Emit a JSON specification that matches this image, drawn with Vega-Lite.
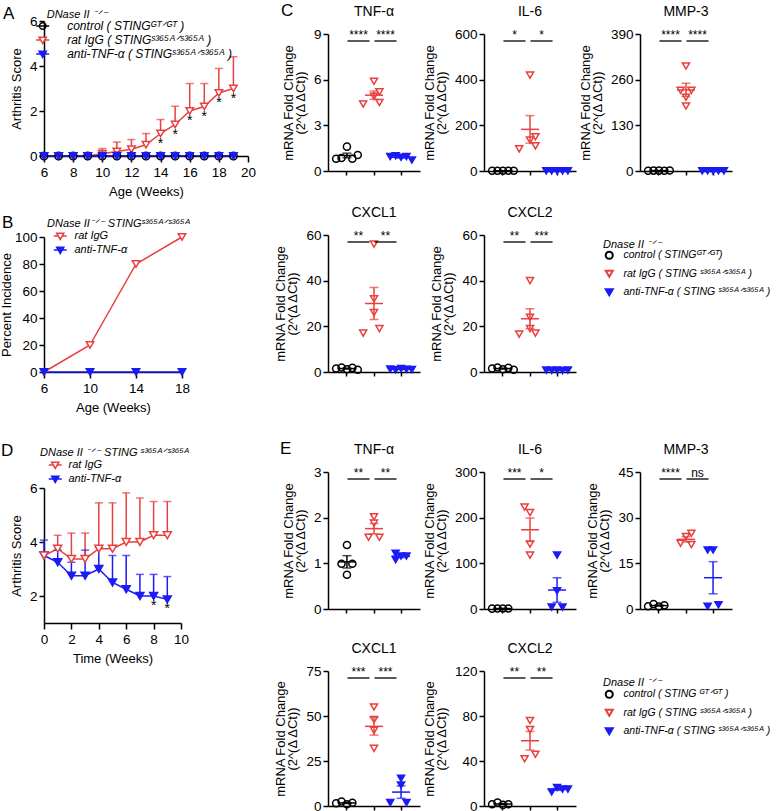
{
"$schema": "https://vega.github.io/schema/vega-lite/v6.json",
"autosize": {"type": "none"},
"padding": {"left": 44, "top": 21, "right": 733, "bottom": 790},
"background": "white",
"config": {
 "font": "Liberation Sans",
 "view": {"stroke": null},
 "axis": {"domainColor": "#000", "domainWidth": 1.5, "tickColor": "#000", "tickWidth": 1.5, "tickSize": 5, "labelColor": "#000", "labelFontSize": 13.5, "labelPadding": 2, "labelFlush": false, "labelOverlap": false, "titleColor": "#000", "titleFontSize": 13, "titleFontWeight": "normal", "titlePadding": 6, "grid": false, "titleLineHeight": 12},
 "axisX": {"tickSize": 6, "labelPadding": 3, "titlePadding": 7},
 "title": {"fontWeight": "normal", "color": "#000"},
 "legend": {"titleFontWeight": "normal", "titleFontStyle": "italic", "labelFontStyle": "italic", "titleColor": "#000", "labelColor": "#000", "titleFontSize": 11, "labelFontSize": 11, "labelLimit": 400, "titleLimit": 400, "padding": 0}
},
"datasets": {
 "A": [
  {"week":6,"g":"ratIgG","v":0},{"week":7,"g":"ratIgG","v":0},{"week":8,"g":"ratIgG","v":0},{"week":9,"g":"ratIgG","v":0},
  {"week":10,"g":"ratIgG","v":0.1,"hi":0.33},{"week":11,"g":"ratIgG","v":0.2,"hi":0.62},{"week":12,"g":"ratIgG","v":0.3,"hi":0.73},{"week":13,"g":"ratIgG","v":0.5,"hi":1.0},
  {"week":14,"g":"ratIgG","v":1.0,"hi":1.62,"sig":"*"},{"week":15,"g":"ratIgG","v":1.4,"hi":2.21,"sig":"*"},{"week":16,"g":"ratIgG","v":2.0,"hi":3.22,"sig":"*"},{"week":17,"g":"ratIgG","v":2.2,"hi":3.22,"sig":"*"},{"week":18,"g":"ratIgG","v":2.8,"hi":3.89,"sig":"*"},{"week":19,"g":"ratIgG","v":3.0,"hi":4.41,"sig":"*"},
  {"week":6,"g":"control","v":0},{"week":7,"g":"control","v":0},{"week":8,"g":"control","v":0},{"week":9,"g":"control","v":0},{"week":10,"g":"control","v":0},{"week":11,"g":"control","v":0},{"week":12,"g":"control","v":0},{"week":13,"g":"control","v":0},{"week":14,"g":"control","v":0},{"week":15,"g":"control","v":0},{"week":16,"g":"control","v":0},{"week":17,"g":"control","v":0},{"week":18,"g":"control","v":0},{"week":19,"g":"control","v":0},
  {"week":6,"g":"antiTNF","v":0},{"week":7,"g":"antiTNF","v":0},{"week":8,"g":"antiTNF","v":0},{"week":9,"g":"antiTNF","v":0},{"week":10,"g":"antiTNF","v":0},{"week":11,"g":"antiTNF","v":0},{"week":12,"g":"antiTNF","v":0},{"week":13,"g":"antiTNF","v":0},{"week":14,"g":"antiTNF","v":0},{"week":15,"g":"antiTNF","v":0},{"week":16,"g":"antiTNF","v":0},{"week":17,"g":"antiTNF","v":0},{"week":18,"g":"antiTNF","v":0},{"week":19,"g":"antiTNF","v":0}
 ],
 "B": [
  {"week":6,"g":"ratIgG","v":0},{"week":10,"g":"ratIgG","v":20},{"week":14,"g":"ratIgG","v":80},{"week":18,"g":"ratIgG","v":100},
  {"week":6,"g":"antiTNF","v":0},{"week":10,"g":"antiTNF","v":0},{"week":14,"g":"antiTNF","v":0},{"week":18,"g":"antiTNF","v":0}
 ],
 "D": [
  {"wk":0,"g":"antiTNF","v":3.5,"hi":4.07},{"wk":1,"g":"antiTNF","v":3.25,"hi":3.7},{"wk":2,"g":"antiTNF","v":2.75,"hi":3.25},{"wk":3,"g":"antiTNF","v":2.75,"hi":3.7},{"wk":4,"g":"antiTNF","v":3.0,"hi":3.8},{"wk":5,"g":"antiTNF","v":2.5,"hi":3.5},{"wk":6,"g":"antiTNF","v":2.25,"hi":3.5},{"wk":7,"g":"antiTNF","v":2.0,"hi":2.8},{"wk":8,"g":"antiTNF","v":2.0,"hi":2.8,"sig":"*"},{"wk":9,"g":"antiTNF","v":1.875,"hi":2.72,"sig":"*"},
  {"wk":0,"g":"ratIgG","v":3.5},{"wk":1,"g":"ratIgG","v":3.75,"hi":4.25},{"wk":2,"g":"ratIgG","v":3.375,"hi":4.33},{"wk":3,"g":"ratIgG","v":3.375,"hi":4.33},{"wk":4,"g":"ratIgG","v":3.75,"hi":5.45},{"wk":5,"g":"ratIgG","v":3.75,"hi":5.45},{"wk":6,"g":"ratIgG","v":4.0,"hi":5.82},{"wk":7,"g":"ratIgG","v":4.0,"hi":5.63},{"wk":8,"g":"ratIgG","v":4.25,"hi":5.5},{"wk":9,"g":"ratIgG","v":4.25,"hi":5.5}
 ],
 "cTNF": [
  {"g":"control","s":1,"v":0.8},{"g":"control","s":2,"v":0.85},{"g":"control","s":3,"v":1.6},{"g":"control","s":4,"v":0.8},{"g":"control","s":5,"v":1.05},
  {"g":"ratIgG","s":1,"v":4.4},{"g":"ratIgG","s":3,"v":4.9},{"g":"ratIgG","s":3,"v":5.9},{"g":"ratIgG","s":4,"v":5.2},{"g":"ratIgG","s":4,"v":4.5},
  {"g":"antiTNF","s":1,"v":0.95},{"g":"antiTNF","s":2,"v":1.0},{"g":"antiTNF","s":3,"v":0.9},{"g":"antiTNF","s":4,"v":0.95},{"g":"antiTNF","s":5,"v":0.72}
 ],
 "cIL6": [
  {"g":"control","s":1,"v":1.0},{"g":"control","s":2,"v":1.2},{"g":"control","s":3,"v":0.8},{"g":"control","s":4,"v":1.1},{"g":"control","s":5,"v":0.9},
  {"g":"ratIgG","s":1,"v":97},{"g":"ratIgG","s":3,"v":135},{"g":"ratIgG","s":3,"v":420},{"g":"ratIgG","s":4,"v":150},{"g":"ratIgG","s":4,"v":110},
  {"g":"antiTNF","s":1,"v":0.5},{"g":"antiTNF","s":2,"v":0.6},{"g":"antiTNF","s":3,"v":0.4},{"g":"antiTNF","s":4,"v":0.5},{"g":"antiTNF","s":5,"v":0.6}
 ],
 "cMMP3": [
  {"g":"control","s":1,"v":0.9},{"g":"control","s":2,"v":1.1},{"g":"control","s":3,"v":1.0},{"g":"control","s":4,"v":0.8},{"g":"control","s":5,"v":1.2},
  {"g":"ratIgG","s":2,"v":230},{"g":"ratIgG","s":3,"v":210},{"g":"ratIgG","s":3,"v":299},{"g":"ratIgG","s":4,"v":230},{"g":"ratIgG","s":3,"v":185},
  {"g":"antiTNF","s":1,"v":0.5},{"g":"antiTNF","s":2,"v":0.6},{"g":"antiTNF","s":3,"v":0.4},{"g":"antiTNF","s":4,"v":0.7},{"g":"antiTNF","s":5,"v":0.5}
 ],
 "cCXCL1": [
  {"g":"control","s":1,"v":1.5},{"g":"control","s":2,"v":2.0},{"g":"control","s":3,"v":1.2},{"g":"control","s":4,"v":1.8},{"g":"control","s":5,"v":1.0},
  {"g":"ratIgG","s":1,"v":17},{"g":"ratIgG","s":3,"v":32},{"g":"ratIgG","s":3,"v":56},{"g":"ratIgG","s":3,"v":26},{"g":"ratIgG","s":4,"v":19},
  {"g":"antiTNF","s":1,"v":1.3},{"g":"antiTNF","s":2,"v":1.0},{"g":"antiTNF","s":3,"v":1.5},{"g":"antiTNF","s":4,"v":1.2},{"g":"antiTNF","s":5,"v":1.1}
 ],
 "cCXCL2": [
  {"g":"control","s":1,"v":1.5},{"g":"control","s":2,"v":2.0},{"g":"control","s":3,"v":1.2},{"g":"control","s":4,"v":1.8},{"g":"control","s":5,"v":1.0},
  {"g":"ratIgG","s":1,"v":16.6},{"g":"ratIgG","s":3,"v":24},{"g":"ratIgG","s":3,"v":40},{"g":"ratIgG","s":3,"v":19},{"g":"ratIgG","s":4,"v":17},
  {"g":"antiTNF","s":1,"v":0.8},{"g":"antiTNF","s":2,"v":0.7},{"g":"antiTNF","s":3,"v":0.9},{"g":"antiTNF","s":4,"v":0.6},{"g":"antiTNF","s":5,"v":0.8}
 ],
 "eTNF": [
  {"g":"control","s":2,"v":0.99},{"g":"control","s":3,"v":1.4},{"g":"control","s":3,"v":0.75},{"g":"control","s":4,"v":0.99},
  {"g":"ratIgG","s":2,"v":1.57},{"g":"ratIgG","s":3,"v":2.02},{"g":"ratIgG","s":3,"v":1.88},{"g":"ratIgG","s":4,"v":1.57},
  {"g":"antiTNF","s":2,"v":1.22},{"g":"antiTNF","s":2,"v":1.08},{"g":"antiTNF","s":3,"v":1.16},{"g":"antiTNF","s":4,"v":1.16}
 ],
 "eIL6": [
  {"g":"control","s":1,"v":0.8},{"g":"control","s":2,"v":1.2},{"g":"control","s":3,"v":1.0},{"g":"control","s":4,"v":0.9},
  {"g":"ratIgG","s":2,"v":223},{"g":"ratIgG","s":3,"v":211},{"g":"ratIgG","s":3,"v":142},{"g":"ratIgG","s":3,"v":118},
  {"g":"antiTNF","s":2,"v":4},{"g":"antiTNF","s":3,"v":118},{"g":"antiTNF","s":3,"v":40},{"g":"antiTNF","s":4,"v":4}
 ],
 "eMMP3": [
  {"g":"control","s":1,"v":0.9},{"g":"control","s":2,"v":1.6},{"g":"control","s":3,"v":0.8},{"g":"control","s":4,"v":1.2},
  {"g":"ratIgG","s":2,"v":21.6},{"g":"ratIgG","s":3,"v":23.8},{"g":"ratIgG","s":4,"v":24.9},{"g":"ratIgG","s":4,"v":21.2},
  {"g":"antiTNF","s":2,"v":19.4},{"g":"antiTNF","s":3,"v":19.4},{"g":"antiTNF","s":2,"v":0.9},{"g":"antiTNF","s":4,"v":1.4}
 ],
 "eCXCL1": [
  {"g":"control","s":1,"v":1.5},{"g":"control","s":2,"v":2.5},{"g":"control","s":3,"v":1.0},{"g":"control","s":4,"v":1.8},
  {"g":"ratIgG","s":3,"v":55},{"g":"ratIgG","s":3,"v":48},{"g":"ratIgG","s":3,"v":42},{"g":"ratIgG","s":3,"v":32},
  {"g":"antiTNF","s":3,"v":15.4},{"g":"antiTNF","s":3,"v":11.7},{"g":"antiTNF","s":1,"v":1.9},{"g":"antiTNF","s":4,"v":1.9}
 ],
 "eCXCL2": [
  {"g":"control","s":1,"v":1.5},{"g":"control","s":2,"v":3.0},{"g":"control","s":3,"v":1.0},{"g":"control","s":4,"v":1.5},
  {"g":"ratIgG","s":3,"v":76},{"g":"ratIgG","s":3,"v":68},{"g":"ratIgG","s":2,"v":42},{"g":"ratIgG","s":4,"v":46},
  {"g":"antiTNF","s":2,"v":12.5},{"g":"antiTNF","s":3,"v":16.5},{"g":"antiTNF","s":4,"v":15},{"g":"antiTNF","s":5,"v":15}
 ]
},
"hconcat": [
 {"vconcat": [
  {"vconcat": [
   {"width": 204, "height": 135,
    "title": {"text": "A", "anchor": "start", "frame": "group", "fontSize": 17, "dx": -41, "dy": 14, "offset": 0},
    "data": {"name": "A"},
    "layer": [
     {"mark": {"type": "line", "strokeWidth": 1.5},
      "encoding": {
       "x": {"field": "week", "type": "quantitative", "scale": {"domain": [6, 20], "nice": false, "zero": false}, "axis": {"values": [6,8,10,12,14,16,18,20], "tickCount": 50, "format": "d", "title": "Age (Weeks)"}},
       "y": {"field": "v", "type": "quantitative", "scale": {"domain": [0, 6], "nice": false}, "axis": {"values": [0,2,4,6], "tickCount": 50, "format": "d", "title": "Arthritis Score"}},
       "color": {"field": "g", "type": "nominal", "scale": {"domain": ["control","ratIgG","antiTNF","none"], "range": ["#000000","#E8403E","#1B1BF5","#000000"]}, "legend": null}}},
     {"transform": [{"filter": "isValid(datum.hi)"}], "mark": {"type": "rule", "strokeWidth": 1.5},
      "encoding": {"x": {"field": "week", "type": "quantitative"}, "y": {"field": "v", "type": "quantitative"}, "y2": {"field": "hi"}, "color": {"field": "g", "type": "nominal", "legend": null}}},
     {"transform": [{"filter": "isValid(datum.hi)"}], "mark": {"type": "tick", "orient": "horizontal", "size": 8, "thickness": 1.5},
      "encoding": {"x": {"field": "week", "type": "quantitative"}, "y": {"field": "hi", "type": "quantitative"}, "color": {"field": "g", "type": "nominal", "legend": null}}},
     {"mark": {"type": "point", "size": 55, "strokeWidth": 1.5, "opacity": 1},
      "encoding": {
       "x": {"field": "week", "type": "quantitative"}, "y": {"field": "v", "type": "quantitative"},
       "shape": {"field": "g", "type": "nominal", "scale": {"domain": ["control","ratIgG","antiTNF","none"], "range": ["circle","triangle-down","triangle-down","circle"]}, "legend": null},
       "stroke": {"field": "g", "type": "nominal", "scale": {"domain": ["control","ratIgG","antiTNF"], "range": ["#000000","#E8403E","#1B1BF5"]}, "legend": null},
       "fill": {"field": "g", "type": "nominal", "scale": {"domain": ["control","ratIgG","antiTNF"], "range": ["transparent","#ffffff","#1B1BF5"]}, "legend": null}}},
     {"transform": [{"filter": "false"}], "mark": {"type": "point", "strokeWidth": 1.5, "opacity": 1},
      "encoding": {
       "x": {"field": "week", "type": "quantitative"}, "y": {"field": "v", "type": "quantitative"},
       "shape": {"field": "g", "type": "nominal", "scale": {"domain": ["control","ratIgG","antiTNF"], "range": ["M-1.3,0L1.3,0M-0.65,0A0.65,0.65,0,1,1,0.65,0A0.65,0.65,0,1,1,-0.65,0Z", "M-1.3,0L-0.4,0M0.4,0L1.3,0M-0.72,-0.55L0.72,-0.55L0,0.68Z", "M-1.3,0L-0.4,0M0.4,0L1.3,0M-0.72,-0.55L0.72,-0.55L0,0.68Z"]},
        "legend": {"title": "DNase II ⁻ᐟ⁻", "orient": "none", "legendX": 2.7, "legendY": -12, "symbolSize": 100, "symbolStrokeWidth": 1.5, "symbolOffset": -10, "labelOffset": 18.5, "rowPadding": 1, "titlePadding": 0, "labelFontSize": 12,
         "labelExpr": "datum.value === 'control' ? 'control (  STINGᴳᵀᐟᴳᵀ )' : datum.value === 'ratIgG' ? 'rat IgG ( STINGˢ³⁶⁵ᴬᐟˢ³⁶⁵ᴬ )' : 'anti-TNF-α ( STINGˢ³⁶⁵ᴬᐟˢ³⁶⁵ᴬ )'"}},
       "stroke": {"field": "g", "type": "nominal", "scale": {"domain": ["control","ratIgG","antiTNF"], "range": ["#000000","#E8403E","#1B1BF5"]},
        "legend": {"title": "DNase II ⁻ᐟ⁻", "orient": "none", "legendX": 2.7, "legendY": -12, "symbolSize": 100, "symbolStrokeWidth": 1.5, "symbolOffset": -10, "labelOffset": 18.5, "rowPadding": 1, "titlePadding": 0, "labelFontSize": 12,
         "labelExpr": "datum.value === 'control' ? 'control (  STINGᴳᵀᐟᴳᵀ )' : datum.value === 'ratIgG' ? 'rat IgG ( STINGˢ³⁶⁵ᴬᐟˢ³⁶⁵ᴬ )' : 'anti-TNF-α ( STINGˢ³⁶⁵ᴬᐟˢ³⁶⁵ᴬ )'"}},
       "fill": {"field": "g", "type": "nominal", "scale": {"domain": ["control","ratIgG","antiTNF"], "range": ["transparent","#ffffff","#1B1BF5"]},
        "legend": {"title": "DNase II ⁻ᐟ⁻", "orient": "none", "legendX": 2.7, "legendY": -12, "symbolSize": 100, "symbolStrokeWidth": 1.5, "symbolOffset": -10, "labelOffset": 18.5, "rowPadding": 1, "titlePadding": 0, "labelFontSize": 12,
         "labelExpr": "datum.value === 'control' ? 'control (  STINGᴳᵀᐟᴳᵀ )' : datum.value === 'ratIgG' ? 'rat IgG ( STINGˢ³⁶⁵ᴬᐟˢ³⁶⁵ᴬ )' : 'anti-TNF-α ( STINGˢ³⁶⁵ᴬᐟˢ³⁶⁵ᴬ )'"}}}},
     {"transform": [{"filter": "datum.sig"}], "mark": {"type": "text", "baseline": "top", "dy": 3, "fontSize": 14, "color": "#000"},
      "encoding": {"x": {"field": "week", "type": "quantitative"}, "y": {"field": "v", "type": "quantitative"}, "text": {"field": "sig"}}}
    ],
    "resolve": {"scale": {"shape": "independent", "stroke": "independent", "fill": "independent"}}},
   {"width": 138, "height": 135,
    "title": {"text": "B", "anchor": "start", "frame": "group", "fontSize": 17, "dx": -42, "dy": 14, "offset": 0},
    "data": {"name": "B"},
    "layer": [
     {"mark": {"type": "line", "strokeWidth": 1.5},
      "encoding": {
       "x": {"field": "week", "type": "quantitative", "scale": {"domain": [6, 18], "nice": false, "zero": false}, "axis": {"values": [6,10,14,18], "tickCount": 50, "format": "d", "title": "Age (Weeks)"}},
       "y": {"field": "v", "type": "quantitative", "scale": {"domain": [0, 100], "nice": false}, "axis": {"values": [0,20,40,60,80,100], "tickCount": 50, "format": "d", "title": "Percent Incidence", "titlePadding": 1}},
       "color": {"field": "g", "type": "nominal", "scale": {"domain": ["ratIgG","antiTNF","none"], "range": ["#E8403E","#1B1BF5","#000000"]}, "legend": null}}},
     {"mark": {"type": "point", "size": 55, "strokeWidth": 1.5, "opacity": 1},
      "encoding": {
       "x": {"field": "week", "type": "quantitative"}, "y": {"field": "v", "type": "quantitative"},
       "shape": {"field": "g", "type": "nominal", "scale": {"domain": ["ratIgG","antiTNF","none"], "range": ["triangle-down","triangle-down","circle"]}, "legend": null},
       "stroke": {"field": "g", "type": "nominal", "scale": {"domain": ["ratIgG","antiTNF"], "range": ["#E8403E","#1B1BF5"]},
        "legend": {"title": "DNase  II⁻ᐟ⁻ STINGˢ³⁶⁵ᴬᐟˢ³⁶⁵ᴬ", "orient": "none", "legendX": 3, "legendY": -19, "symbolSize": 100, "symbolStrokeWidth": 1.5, "symbolType": "M-1.3,0L-0.4,0M0.4,0L1.3,0M-0.72,-0.55L0.72,-0.55L0,0.68Z", "symbolOffset": 7.25, "labelOffset": 8.25, "rowPadding": 1, "titlePadding": 1,
         "labelExpr": "datum.value === 'ratIgG' ? 'rat IgG' : 'anti-TNF-α'"}},
       "fill": {"field": "g", "type": "nominal", "scale": {"domain": ["ratIgG","antiTNF"], "range": ["#ffffff","#1B1BF5"]},
        "legend": {"title": "DNase  II⁻ᐟ⁻ STINGˢ³⁶⁵ᴬᐟˢ³⁶⁵ᴬ", "orient": "none", "legendX": 3, "legendY": -19, "symbolSize": 100, "symbolStrokeWidth": 1.5, "symbolType": "M-1.3,0L-0.4,0M0.4,0L1.3,0M-0.72,-0.55L0.72,-0.55L0,0.68Z", "symbolOffset": 7.25, "labelOffset": 8.25, "rowPadding": 1, "titlePadding": 1,
         "labelExpr": "datum.value === 'ratIgG' ? 'rat IgG' : 'anti-TNF-α'"}}}}
    ]}
  ], "spacing": 81, "bounds": "flush",
  "resolve": {"scale": {"color": "independent", "shape": "independent", "stroke": "independent", "fill": "independent", "xOffset": "independent"}}},
  {"width": 137, "height": 135,
   "title": {"text": "D", "anchor": "start", "frame": "group", "fontSize": 17, "dx": -43, "dy": 13, "offset": 0},
   "data": {"name": "D"},
   "layer": [
    {"mark": {"type": "line", "strokeWidth": 1.5},
     "encoding": {
      "x": {"field": "wk", "type": "quantitative", "scale": {"domain": [0, 10], "nice": false, "zero": false}, "axis": {"values": [0,2,4,6,8,10], "tickCount": 50, "format": "d", "title": "Time (Weeks)"}},
      "y": {"field": "v", "type": "quantitative", "scale": {"domain": [1, 6], "nice": false, "zero": false}, "axis": {"values": [2,4,6], "tickCount": 50, "format": "d", "title": "Arthritis Score"}},
      "color": {"field": "g", "type": "nominal", "scale": {"domain": ["ratIgG","antiTNF","none"], "range": ["#E8403E","#1B1BF5","#000000"]}, "legend": null}}},
    {"transform": [{"filter": "isValid(datum.hi)"}], "mark": {"type": "rule", "strokeWidth": 1.5},
     "encoding": {"x": {"field": "wk", "type": "quantitative"}, "y": {"field": "v", "type": "quantitative"}, "y2": {"field": "hi"}, "color": {"field": "g", "type": "nominal", "legend": null}}},
    {"transform": [{"filter": "isValid(datum.hi)"}], "mark": {"type": "tick", "orient": "horizontal", "size": 8, "thickness": 1.5},
     "encoding": {"x": {"field": "wk", "type": "quantitative"}, "y": {"field": "hi", "type": "quantitative"}, "color": {"field": "g", "type": "nominal", "legend": null}}},
    {"mark": {"type": "point", "size": 64, "strokeWidth": 1.5, "opacity": 1},
     "encoding": {
      "x": {"field": "wk", "type": "quantitative"}, "y": {"field": "v", "type": "quantitative"},
      "shape": {"field": "g", "type": "nominal", "scale": {"domain": ["ratIgG","antiTNF","none"], "range": ["triangle-down","triangle-down","circle"]}, "legend": null},
      "stroke": {"field": "g", "type": "nominal", "scale": {"domain": ["ratIgG","antiTNF"], "range": ["#E8403E","#1B1BF5"]},
       "legend": {"title": "DNase II ⁻ᐟ⁻ STING ˢ³⁶⁵ᴬᐟˢ³⁶⁵ᴬ", "orient": "none", "legendX": -4, "legendY": -41, "symbolSize": 100, "symbolStrokeWidth": 1.5, "symbolType": "M-1.3,0L-0.4,0M0.4,0L1.3,0M-0.72,-0.55L0.72,-0.55L0,0.68Z", "symbolOffset": 9.25, "labelOffset": 7.25, "rowPadding": 1, "titlePadding": 1,
        "labelExpr": "datum.value === 'ratIgG' ? 'rat IgG' : 'anti-TNF-α'"}},
      "fill": {"field": "g", "type": "nominal", "scale": {"domain": ["ratIgG","antiTNF"], "range": ["#ffffff","#1B1BF5"]},
       "legend": {"title": "DNase II ⁻ᐟ⁻ STING ˢ³⁶⁵ᴬᐟˢ³⁶⁵ᴬ", "orient": "none", "legendX": -4, "legendY": -41, "symbolSize": 100, "symbolStrokeWidth": 1.5, "symbolType": "M-1.3,0L-0.4,0M0.4,0L1.3,0M-0.72,-0.55L0.72,-0.55L0,0.68Z", "symbolOffset": 9.25, "labelOffset": 7.25, "rowPadding": 1, "titlePadding": 1,
        "labelExpr": "datum.value === 'ratIgG' ? 'rat IgG' : 'anti-TNF-α'"}}}},
    {"transform": [{"filter": "datum.sig"}], "mark": {"type": "text", "baseline": "top", "dy": 3, "fontSize": 14, "color": "#000"},
     "encoding": {"x": {"field": "wk", "type": "quantitative"}, "y": {"field": "v", "type": "quantitative"}, "text": {"field": "sig"}}}
   ]}
 ], "spacing": 467, "bounds": "flush",
 "resolve": {"scale": {"color": "independent", "shape": "independent", "stroke": "independent", "fill": "independent", "xOffset": "independent"}}},
 {"vconcat": [
  {"width": 1, "height": 1, "data": {"values": [{"z": 0}]}, "mark": {"type": "point", "opacity": 0}, "encoding": {}},
  {"vconcat": [
   {"title": {"text": "C", "anchor": "start", "frame": "group", "fontSize": 17, "dx": -47, "dy": 15, "offset": 0},
    "vconcat": [
    {"hconcat": [
     {"width": 92, "height": 137, "title": {"text": "TNF-α", "frame": "group", "fontSize": 14, "offset": 8},
      "layer": [
       {"data": {"name": "cTNF"}, "layer": [
        {"mark": {"type": "errorbar", "extent": "stderr", "ticks": {"size": 9}, "thickness": 1.5},
         "encoding": {"x": {"field": "g", "type": "nominal", "scale": {"type": "band", "domain": ["control","ratIgG","antiTNF"], "paddingInner": 0.2, "paddingOuter": 0.3}, "axis": {"labels": false, "title": null, "tickSize": 4}},
          "y": {"field": "v", "type": "quantitative", "scale": {"domain": [0, 9], "nice": false}, "axis": {"values": [0,3,6,9], "title": ["mRNA Fold Change", "(2^(Δ ΔCt))"]}},
          "color": {"field": "g", "type": "nominal", "scale": {"domain": ["control","ratIgG","antiTNF","none"], "range": ["#000000","#E8403E","#1B1BF5","#000000"]}, "legend": null}}},
        {"mark": {"type": "tick", "size": 18, "thickness": 1.5},
         "encoding": {"x": {"field": "g", "type": "nominal"}, "y": {"aggregate": "mean", "field": "v", "type": "quantitative"}, "color": {"field": "g", "type": "nominal", "legend": null}}},
        {"mark": {"type": "point", "size": 50, "strokeWidth": 1.5, "opacity": 1},
         "encoding": {"x": {"field": "g", "type": "nominal"}, "xOffset": {"field": "s", "type": "nominal", "scale": {"domain": [1,2,3,4,5], "paddingInner": 0, "paddingOuter": 0}}, "y": {"field": "v", "type": "quantitative"},
          "shape": {"field": "g", "type": "nominal", "scale": {"domain": ["control","ratIgG","antiTNF"], "range": ["circle","triangle-down","triangle-down"]}, "legend": null},
          "stroke": {"field": "g", "type": "nominal", "scale": {"domain": ["control","ratIgG","antiTNF"], "range": ["#000000","#E8403E","#1B1BF5"]}, "legend": null},
          "fill": {"field": "g", "type": "nominal", "scale": {"domain": ["control","ratIgG","antiTNF"], "range": ["transparent","transparent","#1B1BF5"]}, "legend": null}}}
       ]},
       {"data": {"values": [{"a": 1, "b": 2, "m": 1.5, "t": "****"}, {"a": 2, "b": 3, "m": 2.5, "t": "****"}]}, "layer": [
        {"mark": {"type": "rule", "strokeWidth": 1.3, "color": "#000", "yOffset": 7, "xOffset": 0.5, "x2Offset": -4.5},
         "encoding": {"x": {"field": "a", "type": "quantitative", "scale": {"domain": [0.3, 3.7], "nice": false, "zero": false}, "axis": null}, "x2": {"field": "b"}, "y": {"datum": 9}}},
        {"mark": {"type": "text", "yOffset": 5, "dx": -2, "fontSize": 12, "baseline": "alphabetic", "color": "#000"},
         "encoding": {"x": {"field": "m", "type": "quantitative"}, "y": {"datum": 9}, "text": {"field": "t"}}}
       ]}
      ], "resolve": {"scale": {"x": "independent"}}},
     {"width": 92, "height": 137, "title": {"text": "IL-6", "frame": "group", "fontSize": 14, "offset": 8},
      "layer": [
       {"data": {"name": "cIL6"}, "layer": [
        {"mark": {"type": "errorbar", "extent": "stderr", "ticks": {"size": 9}, "thickness": 1.5},
         "encoding": {"x": {"field": "g", "type": "nominal", "scale": {"type": "band", "domain": ["control","ratIgG","antiTNF"], "paddingInner": 0.2, "paddingOuter": 0.3}, "axis": {"labels": false, "title": null, "tickSize": 4}},
          "y": {"field": "v", "type": "quantitative", "scale": {"domain": [0, 600], "nice": false}, "axis": {"values": [0,200,400,600], "title": ["mRNA Fold Change", "(2^(Δ ΔCt))"]}},
          "color": {"field": "g", "type": "nominal", "scale": {"domain": ["control","ratIgG","antiTNF","none"], "range": ["#000000","#E8403E","#1B1BF5","#000000"]}, "legend": null}}},
        {"mark": {"type": "tick", "size": 18, "thickness": 1.5},
         "encoding": {"x": {"field": "g", "type": "nominal"}, "y": {"aggregate": "mean", "field": "v", "type": "quantitative"}, "color": {"field": "g", "type": "nominal", "legend": null}}},
        {"mark": {"type": "point", "size": 50, "strokeWidth": 1.5, "opacity": 1},
         "encoding": {"x": {"field": "g", "type": "nominal"}, "xOffset": {"field": "s", "type": "nominal", "scale": {"domain": [1,2,3,4,5], "paddingInner": 0, "paddingOuter": 0}}, "y": {"field": "v", "type": "quantitative"},
          "shape": {"field": "g", "type": "nominal", "scale": {"domain": ["control","ratIgG","antiTNF"], "range": ["circle","triangle-down","triangle-down"]}, "legend": null},
          "stroke": {"field": "g", "type": "nominal", "scale": {"domain": ["control","ratIgG","antiTNF"], "range": ["#000000","#E8403E","#1B1BF5"]}, "legend": null},
          "fill": {"field": "g", "type": "nominal", "scale": {"domain": ["control","ratIgG","antiTNF"], "range": ["transparent","transparent","#1B1BF5"]}, "legend": null}}}
       ]},
       {"data": {"values": [{"a": 1, "b": 2, "m": 1.5, "t": "*"}, {"a": 2, "b": 3, "m": 2.5, "t": "*"}]}, "layer": [
        {"mark": {"type": "rule", "strokeWidth": 1.3, "color": "#000", "yOffset": 7, "xOffset": 0.5, "x2Offset": -4.5},
         "encoding": {"x": {"field": "a", "type": "quantitative", "scale": {"domain": [0.3, 3.7], "nice": false, "zero": false}, "axis": null}, "x2": {"field": "b"}, "y": {"datum": 600}}},
        {"mark": {"type": "text", "yOffset": 5, "dx": -2, "fontSize": 12, "baseline": "alphabetic", "color": "#000"},
         "encoding": {"x": {"field": "m", "type": "quantitative"}, "y": {"datum": 600}, "text": {"field": "t"}}}
       ]}
      ], "resolve": {"scale": {"x": "independent"}}},
     {"width": 92, "height": 137, "title": {"text": "MMP-3", "frame": "group", "fontSize": 14, "offset": 8},
      "layer": [
       {"data": {"name": "cMMP3"}, "layer": [
        {"mark": {"type": "errorbar", "extent": "stderr", "ticks": {"size": 9}, "thickness": 1.5},
         "encoding": {"x": {"field": "g", "type": "nominal", "scale": {"type": "band", "domain": ["control","ratIgG","antiTNF"], "paddingInner": 0.2, "paddingOuter": 0.3}, "axis": {"labels": false, "title": null, "tickSize": 4}},
          "y": {"field": "v", "type": "quantitative", "scale": {"domain": [0, 390], "nice": false}, "axis": {"values": [0,130,260,390], "title": ["mRNA Fold Change", "(2^(Δ ΔCt))"]}},
          "color": {"field": "g", "type": "nominal", "scale": {"domain": ["control","ratIgG","antiTNF","none"], "range": ["#000000","#E8403E","#1B1BF5","#000000"]}, "legend": null}}},
        {"mark": {"type": "tick", "size": 18, "thickness": 1.5},
         "encoding": {"x": {"field": "g", "type": "nominal"}, "y": {"aggregate": "mean", "field": "v", "type": "quantitative"}, "color": {"field": "g", "type": "nominal", "legend": null}}},
        {"mark": {"type": "point", "size": 50, "strokeWidth": 1.5, "opacity": 1},
         "encoding": {"x": {"field": "g", "type": "nominal"}, "xOffset": {"field": "s", "type": "nominal", "scale": {"domain": [1,2,3,4,5], "paddingInner": 0, "paddingOuter": 0}}, "y": {"field": "v", "type": "quantitative"},
          "shape": {"field": "g", "type": "nominal", "scale": {"domain": ["control","ratIgG","antiTNF"], "range": ["circle","triangle-down","triangle-down"]}, "legend": null},
          "stroke": {"field": "g", "type": "nominal", "scale": {"domain": ["control","ratIgG","antiTNF"], "range": ["#000000","#E8403E","#1B1BF5"]}, "legend": null},
          "fill": {"field": "g", "type": "nominal", "scale": {"domain": ["control","ratIgG","antiTNF"], "range": ["transparent","transparent","#1B1BF5"]}, "legend": null}}}
       ]},
       {"data": {"values": [{"a": 1, "b": 2, "m": 1.5, "t": "****"}, {"a": 2, "b": 3, "m": 2.5, "t": "****"}]}, "layer": [
        {"mark": {"type": "rule", "strokeWidth": 1.3, "color": "#000", "yOffset": 7, "xOffset": 0.5, "x2Offset": -4.5},
         "encoding": {"x": {"field": "a", "type": "quantitative", "scale": {"domain": [0.3, 3.7], "nice": false, "zero": false}, "axis": null}, "x2": {"field": "b"}, "y": {"datum": 390}}},
        {"mark": {"type": "text", "yOffset": 5, "dx": -2, "fontSize": 12, "baseline": "alphabetic", "color": "#000"},
         "encoding": {"x": {"field": "m", "type": "quantitative"}, "y": {"datum": 390}, "text": {"field": "t"}}}
       ]}
      ], "resolve": {"scale": {"x": "independent"}}}
    ], "spacing": 64, "bounds": "flush",
    "resolve": {"scale": {"color": "independent", "shape": "independent", "stroke": "independent", "fill": "independent", "xOffset": "independent"}}},
    {"hconcat": [
     {"width": 92, "height": 137, "title": {"text": "CXCL1", "frame": "group", "fontSize": 14, "offset": 8},
      "layer": [
       {"data": {"name": "cCXCL1"}, "layer": [
        {"mark": {"type": "errorbar", "extent": "stderr", "ticks": {"size": 9}, "thickness": 1.5},
         "encoding": {"x": {"field": "g", "type": "nominal", "scale": {"type": "band", "domain": ["control","ratIgG","antiTNF"], "paddingInner": 0.2, "paddingOuter": 0.3}, "axis": {"labels": false, "title": null, "tickSize": 4}},
          "y": {"field": "v", "type": "quantitative", "scale": {"domain": [0, 60], "nice": false}, "axis": {"values": [0,20,40,60], "title": ["mRNA Fold Change", "(2^(Δ ΔCt))"]}},
          "color": {"field": "g", "type": "nominal", "scale": {"domain": ["control","ratIgG","antiTNF","none"], "range": ["#000000","#E8403E","#1B1BF5","#000000"]}, "legend": null}}},
        {"mark": {"type": "tick", "size": 18, "thickness": 1.5},
         "encoding": {"x": {"field": "g", "type": "nominal"}, "y": {"aggregate": "mean", "field": "v", "type": "quantitative"}, "color": {"field": "g", "type": "nominal", "legend": null}}},
        {"mark": {"type": "point", "size": 50, "strokeWidth": 1.5, "opacity": 1},
         "encoding": {"x": {"field": "g", "type": "nominal"}, "xOffset": {"field": "s", "type": "nominal", "scale": {"domain": [1,2,3,4,5], "paddingInner": 0, "paddingOuter": 0}}, "y": {"field": "v", "type": "quantitative"},
          "shape": {"field": "g", "type": "nominal", "scale": {"domain": ["control","ratIgG","antiTNF"], "range": ["circle","triangle-down","triangle-down"]}, "legend": null},
          "stroke": {"field": "g", "type": "nominal", "scale": {"domain": ["control","ratIgG","antiTNF"], "range": ["#000000","#E8403E","#1B1BF5"]}, "legend": null},
          "fill": {"field": "g", "type": "nominal", "scale": {"domain": ["control","ratIgG","antiTNF"], "range": ["transparent","transparent","#1B1BF5"]}, "legend": null}}}
       ]},
       {"data": {"values": [{"a": 1, "b": 2, "m": 1.5, "t": "**"}, {"a": 2, "b": 3, "m": 2.5, "t": "**"}]}, "layer": [
        {"mark": {"type": "rule", "strokeWidth": 1.3, "color": "#000", "yOffset": 7, "xOffset": 0.5, "x2Offset": -4.5},
         "encoding": {"x": {"field": "a", "type": "quantitative", "scale": {"domain": [0.3, 3.7], "nice": false, "zero": false}, "axis": null}, "x2": {"field": "b"}, "y": {"datum": 60}}},
        {"mark": {"type": "text", "yOffset": 5, "dx": -2, "fontSize": 12, "baseline": "alphabetic", "color": "#000"},
         "encoding": {"x": {"field": "m", "type": "quantitative"}, "y": {"datum": 60}, "text": {"field": "t"}}}
       ]}
      ], "resolve": {"scale": {"x": "independent"}}},
     {"width": 92, "height": 137, "title": {"text": "CXCL2", "frame": "group", "fontSize": 14, "offset": 8},
      "layer": [
       {"data": {"name": "cCXCL2"}, "layer": [
        {"mark": {"type": "errorbar", "extent": "stderr", "ticks": {"size": 9}, "thickness": 1.5},
         "encoding": {"x": {"field": "g", "type": "nominal", "scale": {"type": "band", "domain": ["control","ratIgG","antiTNF"], "paddingInner": 0.2, "paddingOuter": 0.3}, "axis": {"labels": false, "title": null, "tickSize": 4}},
          "y": {"field": "v", "type": "quantitative", "scale": {"domain": [0, 60], "nice": false}, "axis": {"values": [0,20,40,60], "title": ["mRNA Fold Change", "(2^(Δ ΔCt))"]}},
          "color": {"field": "g", "type": "nominal", "scale": {"domain": ["control","ratIgG","antiTNF","none"], "range": ["#000000","#E8403E","#1B1BF5","#000000"]}, "legend": null}}},
        {"mark": {"type": "tick", "size": 18, "thickness": 1.5},
         "encoding": {"x": {"field": "g", "type": "nominal"}, "y": {"aggregate": "mean", "field": "v", "type": "quantitative"}, "color": {"field": "g", "type": "nominal", "legend": null}}},
        {"mark": {"type": "point", "size": 50, "strokeWidth": 1.5, "opacity": 1},
         "encoding": {"x": {"field": "g", "type": "nominal"}, "xOffset": {"field": "s", "type": "nominal", "scale": {"domain": [1,2,3,4,5], "paddingInner": 0, "paddingOuter": 0}}, "y": {"field": "v", "type": "quantitative"},
          "shape": {"field": "g", "type": "nominal", "scale": {"domain": ["control","ratIgG","antiTNF"], "range": ["circle","triangle-down","triangle-down"]},
           "legend": {"title": "Dnase II ⁻ᐟ⁻", "orient": "none", "legendX": 119, "legendY": 4, "symbolSize": 50, "symbolStrokeWidth": 2, "symbolOffset": 1, "labelOffset": 9, "rowPadding": 3.5, "titlePadding": 0, "labelFontSize": 10.5,
            "labelExpr": "datum.value === 'control' ? 'control ( STINGᴳᵀᐟᴳᵀ)' : datum.value === 'ratIgG' ? 'rat IgG ( STING ˢ³⁶⁵ᴬᐟˢ³⁶⁵ᴬ )' : 'anti-TNF-α ( STING ˢ³⁶⁵ᴬᐟˢ³⁶⁵ᴬ )'"}},
          "stroke": {"field": "g", "type": "nominal", "scale": {"domain": ["control","ratIgG","antiTNF"], "range": ["#000000","#E8403E","#1B1BF5"]},
           "legend": {"title": "Dnase II ⁻ᐟ⁻", "orient": "none", "legendX": 119, "legendY": 4, "symbolSize": 50, "symbolStrokeWidth": 2, "symbolOffset": 1, "labelOffset": 9, "rowPadding": 3.5, "titlePadding": 0, "labelFontSize": 10.5,
            "labelExpr": "datum.value === 'control' ? 'control ( STINGᴳᵀᐟᴳᵀ)' : datum.value === 'ratIgG' ? 'rat IgG ( STING ˢ³⁶⁵ᴬᐟˢ³⁶⁵ᴬ )' : 'anti-TNF-α ( STING ˢ³⁶⁵ᴬᐟˢ³⁶⁵ᴬ )'"}},
          "fill": {"field": "g", "type": "nominal", "scale": {"domain": ["control","ratIgG","antiTNF"], "range": ["transparent","transparent","#1B1BF5"]},
           "legend": {"title": "Dnase II ⁻ᐟ⁻", "orient": "none", "legendX": 119, "legendY": 4, "symbolSize": 50, "symbolStrokeWidth": 2, "symbolOffset": 1, "labelOffset": 9, "rowPadding": 3.5, "titlePadding": 0, "labelFontSize": 10.5,
            "labelExpr": "datum.value === 'control' ? 'control ( STINGᴳᵀᐟᴳᵀ)' : datum.value === 'ratIgG' ? 'rat IgG ( STING ˢ³⁶⁵ᴬᐟˢ³⁶⁵ᴬ )' : 'anti-TNF-α ( STING ˢ³⁶⁵ᴬᐟˢ³⁶⁵ᴬ )'"}}}}
       ]},
       {"data": {"values": [{"a": 1, "b": 2, "m": 1.5, "t": "**"}, {"a": 2, "b": 3, "m": 2.5, "t": "***"}]}, "layer": [
        {"mark": {"type": "rule", "strokeWidth": 1.3, "color": "#000", "yOffset": 7, "xOffset": 0.5, "x2Offset": -4.5},
         "encoding": {"x": {"field": "a", "type": "quantitative", "scale": {"domain": [0.3, 3.7], "nice": false, "zero": false}, "axis": null}, "x2": {"field": "b"}, "y": {"datum": 60}}},
        {"mark": {"type": "text", "yOffset": 5, "dx": -2, "fontSize": 12, "baseline": "alphabetic", "color": "#000"},
         "encoding": {"x": {"field": "m", "type": "quantitative"}, "y": {"datum": 60}, "text": {"field": "t"}}}
       ]}
      ], "resolve": {"scale": {"x": "independent"}}}
    ], "spacing": 64, "bounds": "flush",
    "resolve": {"scale": {"color": "independent", "shape": "independent", "stroke": "independent", "fill": "independent", "xOffset": "independent"}}}
   ], "spacing": 201, "bounds": "flush",
   "resolve": {"scale": {"color": "independent", "shape": "independent", "stroke": "independent", "fill": "independent", "xOffset": "independent"}}},
   {"title": {"text": "E", "anchor": "start", "frame": "group", "fontSize": 17, "dx": -48, "dy": 15, "offset": 0},
    "vconcat": [
    {"hconcat": [
     {"width": 92, "height": 137, "title": {"text": "TNF-α", "frame": "group", "fontSize": 14, "offset": 8},
      "layer": [
       {"data": {"name": "eTNF"}, "layer": [
        {"mark": {"type": "errorbar", "extent": "stderr", "ticks": {"size": 9}, "thickness": 1.5},
         "encoding": {"x": {"field": "g", "type": "nominal", "scale": {"type": "band", "domain": ["control","ratIgG","antiTNF"], "paddingInner": 0.2, "paddingOuter": 0.3}, "axis": {"labels": false, "title": null, "tickSize": 4}},
          "y": {"field": "v", "type": "quantitative", "scale": {"domain": [0, 3], "nice": false}, "axis": {"values": [0,1,2,3], "title": ["mRNA Fold Change", "(2^(Δ ΔCt))"]}},
          "color": {"field": "g", "type": "nominal", "scale": {"domain": ["control","ratIgG","antiTNF","none"], "range": ["#000000","#E8403E","#1B1BF5","#000000"]}, "legend": null}}},
        {"mark": {"type": "tick", "size": 18, "thickness": 1.5},
         "encoding": {"x": {"field": "g", "type": "nominal"}, "y": {"aggregate": "mean", "field": "v", "type": "quantitative"}, "color": {"field": "g", "type": "nominal", "legend": null}}},
        {"mark": {"type": "point", "size": 50, "strokeWidth": 1.5, "opacity": 1},
         "encoding": {"x": {"field": "g", "type": "nominal"}, "xOffset": {"field": "s", "type": "nominal", "scale": {"domain": [1,2,3,4,5], "paddingInner": 0, "paddingOuter": 0}}, "y": {"field": "v", "type": "quantitative"},
          "shape": {"field": "g", "type": "nominal", "scale": {"domain": ["control","ratIgG","antiTNF"], "range": ["circle","triangle-down","triangle-down"]}, "legend": null},
          "stroke": {"field": "g", "type": "nominal", "scale": {"domain": ["control","ratIgG","antiTNF"], "range": ["#000000","#E8403E","#1B1BF5"]}, "legend": null},
          "fill": {"field": "g", "type": "nominal", "scale": {"domain": ["control","ratIgG","antiTNF"], "range": ["transparent","transparent","#1B1BF5"]}, "legend": null}}}
       ]},
       {"data": {"values": [{"a": 1, "b": 2, "m": 1.5, "t": "**"}, {"a": 2, "b": 3, "m": 2.5, "t": "**"}]}, "layer": [
        {"mark": {"type": "rule", "strokeWidth": 1.3, "color": "#000", "yOffset": 7, "xOffset": 0.5, "x2Offset": -4.5},
         "encoding": {"x": {"field": "a", "type": "quantitative", "scale": {"domain": [0.3, 3.7], "nice": false, "zero": false}, "axis": null}, "x2": {"field": "b"}, "y": {"datum": 3}}},
        {"mark": {"type": "text", "yOffset": 5, "dx": -2, "fontSize": 12, "baseline": "alphabetic", "color": "#000"},
         "encoding": {"x": {"field": "m", "type": "quantitative"}, "y": {"datum": 3}, "text": {"field": "t"}}}
       ]}
      ], "resolve": {"scale": {"x": "independent"}}},
     {"width": 92, "height": 137, "title": {"text": "IL-6", "frame": "group", "fontSize": 14, "offset": 8},
      "layer": [
       {"data": {"name": "eIL6"}, "layer": [
        {"mark": {"type": "errorbar", "extent": "stderr", "ticks": {"size": 9}, "thickness": 1.5},
         "encoding": {"x": {"field": "g", "type": "nominal", "scale": {"type": "band", "domain": ["control","ratIgG","antiTNF"], "paddingInner": 0.2, "paddingOuter": 0.3}, "axis": {"labels": false, "title": null, "tickSize": 4}},
          "y": {"field": "v", "type": "quantitative", "scale": {"domain": [0, 300], "nice": false}, "axis": {"values": [0,100,200,300], "title": ["mRNA Fold Change", "(2^(Δ ΔCt))"]}},
          "color": {"field": "g", "type": "nominal", "scale": {"domain": ["control","ratIgG","antiTNF","none"], "range": ["#000000","#E8403E","#1B1BF5","#000000"]}, "legend": null}}},
        {"mark": {"type": "tick", "size": 18, "thickness": 1.5},
         "encoding": {"x": {"field": "g", "type": "nominal"}, "y": {"aggregate": "mean", "field": "v", "type": "quantitative"}, "color": {"field": "g", "type": "nominal", "legend": null}}},
        {"mark": {"type": "point", "size": 50, "strokeWidth": 1.5, "opacity": 1},
         "encoding": {"x": {"field": "g", "type": "nominal"}, "xOffset": {"field": "s", "type": "nominal", "scale": {"domain": [1,2,3,4,5], "paddingInner": 0, "paddingOuter": 0}}, "y": {"field": "v", "type": "quantitative"},
          "shape": {"field": "g", "type": "nominal", "scale": {"domain": ["control","ratIgG","antiTNF"], "range": ["circle","triangle-down","triangle-down"]}, "legend": null},
          "stroke": {"field": "g", "type": "nominal", "scale": {"domain": ["control","ratIgG","antiTNF"], "range": ["#000000","#E8403E","#1B1BF5"]}, "legend": null},
          "fill": {"field": "g", "type": "nominal", "scale": {"domain": ["control","ratIgG","antiTNF"], "range": ["transparent","transparent","#1B1BF5"]}, "legend": null}}}
       ]},
       {"data": {"values": [{"a": 1, "b": 2, "m": 1.5, "t": "***"}, {"a": 2, "b": 3, "m": 2.5, "t": "*"}]}, "layer": [
        {"mark": {"type": "rule", "strokeWidth": 1.3, "color": "#000", "yOffset": 7, "xOffset": 0.5, "x2Offset": -4.5},
         "encoding": {"x": {"field": "a", "type": "quantitative", "scale": {"domain": [0.3, 3.7], "nice": false, "zero": false}, "axis": null}, "x2": {"field": "b"}, "y": {"datum": 300}}},
        {"mark": {"type": "text", "yOffset": 5, "dx": -2, "fontSize": 12, "baseline": "alphabetic", "color": "#000"},
         "encoding": {"x": {"field": "m", "type": "quantitative"}, "y": {"datum": 300}, "text": {"field": "t"}}}
       ]}
      ], "resolve": {"scale": {"x": "independent"}}},
     {"width": 92, "height": 137, "title": {"text": "MMP-3", "frame": "group", "fontSize": 14, "offset": 8},
      "layer": [
       {"data": {"name": "eMMP3"}, "layer": [
        {"mark": {"type": "errorbar", "extent": "stderr", "ticks": {"size": 9}, "thickness": 1.5},
         "encoding": {"x": {"field": "g", "type": "nominal", "scale": {"type": "band", "domain": ["control","ratIgG","antiTNF"], "paddingInner": 0.2, "paddingOuter": 0.3}, "axis": {"labels": false, "title": null, "tickSize": 4}},
          "y": {"field": "v", "type": "quantitative", "scale": {"domain": [0, 45], "nice": false}, "axis": {"values": [0,15,30,45], "title": ["mRNA Fold Change", "(2^(Δ ΔCt))"]}},
          "color": {"field": "g", "type": "nominal", "scale": {"domain": ["control","ratIgG","antiTNF","none"], "range": ["#000000","#E8403E","#1B1BF5","#000000"]}, "legend": null}}},
        {"mark": {"type": "tick", "size": 18, "thickness": 1.5},
         "encoding": {"x": {"field": "g", "type": "nominal"}, "y": {"aggregate": "mean", "field": "v", "type": "quantitative"}, "color": {"field": "g", "type": "nominal", "legend": null}}},
        {"mark": {"type": "point", "size": 50, "strokeWidth": 1.5, "opacity": 1},
         "encoding": {"x": {"field": "g", "type": "nominal"}, "xOffset": {"field": "s", "type": "nominal", "scale": {"domain": [1,2,3,4,5], "paddingInner": 0, "paddingOuter": 0}}, "y": {"field": "v", "type": "quantitative"},
          "shape": {"field": "g", "type": "nominal", "scale": {"domain": ["control","ratIgG","antiTNF"], "range": ["circle","triangle-down","triangle-down"]}, "legend": null},
          "stroke": {"field": "g", "type": "nominal", "scale": {"domain": ["control","ratIgG","antiTNF"], "range": ["#000000","#E8403E","#1B1BF5"]}, "legend": null},
          "fill": {"field": "g", "type": "nominal", "scale": {"domain": ["control","ratIgG","antiTNF"], "range": ["transparent","transparent","#1B1BF5"]}, "legend": null}}}
       ]},
       {"data": {"values": [{"a": 1, "b": 2, "m": 1.5, "t": "****"}, {"a": 2, "b": 3, "m": 2.5, "t": "ns"}]}, "layer": [
        {"mark": {"type": "rule", "strokeWidth": 1.3, "color": "#000", "yOffset": 7, "xOffset": 0.5, "x2Offset": -4.5},
         "encoding": {"x": {"field": "a", "type": "quantitative", "scale": {"domain": [0.3, 3.7], "nice": false, "zero": false}, "axis": null}, "x2": {"field": "b"}, "y": {"datum": 45}}},
        {"mark": {"type": "text", "yOffset": 5, "dx": -2, "fontSize": 12, "baseline": "alphabetic", "color": "#000"},
         "encoding": {"x": {"field": "m", "type": "quantitative"}, "y": {"datum": 45}, "text": {"field": "t"}}}
       ]}
      ], "resolve": {"scale": {"x": "independent"}}}
    ], "spacing": 64, "bounds": "flush",
    "resolve": {"scale": {"color": "independent", "shape": "independent", "stroke": "independent", "fill": "independent", "xOffset": "independent"}}},
    {"hconcat": [
     {"width": 92, "height": 135, "title": {"text": "CXCL1", "frame": "group", "fontSize": 14, "offset": 8},
      "layer": [
       {"data": {"name": "eCXCL1"}, "layer": [
        {"mark": {"type": "errorbar", "extent": "stderr", "ticks": {"size": 9}, "thickness": 1.5},
         "encoding": {"x": {"field": "g", "type": "nominal", "scale": {"type": "band", "domain": ["control","ratIgG","antiTNF"], "paddingInner": 0.2, "paddingOuter": 0.3}, "axis": {"labels": false, "title": null, "tickSize": 4}},
          "y": {"field": "v", "type": "quantitative", "scale": {"domain": [0, 75], "nice": false}, "axis": {"values": [0,25,50,75], "title": ["mRNA Fold Change", "(2^(Δ ΔCt))"]}},
          "color": {"field": "g", "type": "nominal", "scale": {"domain": ["control","ratIgG","antiTNF","none"], "range": ["#000000","#E8403E","#1B1BF5","#000000"]}, "legend": null}}},
        {"mark": {"type": "tick", "size": 18, "thickness": 1.5},
         "encoding": {"x": {"field": "g", "type": "nominal"}, "y": {"aggregate": "mean", "field": "v", "type": "quantitative"}, "color": {"field": "g", "type": "nominal", "legend": null}}},
        {"mark": {"type": "point", "size": 50, "strokeWidth": 1.5, "opacity": 1},
         "encoding": {"x": {"field": "g", "type": "nominal"}, "xOffset": {"field": "s", "type": "nominal", "scale": {"domain": [1,2,3,4,5], "paddingInner": 0, "paddingOuter": 0}}, "y": {"field": "v", "type": "quantitative"},
          "shape": {"field": "g", "type": "nominal", "scale": {"domain": ["control","ratIgG","antiTNF"], "range": ["circle","triangle-down","triangle-down"]}, "legend": null},
          "stroke": {"field": "g", "type": "nominal", "scale": {"domain": ["control","ratIgG","antiTNF"], "range": ["#000000","#E8403E","#1B1BF5"]}, "legend": null},
          "fill": {"field": "g", "type": "nominal", "scale": {"domain": ["control","ratIgG","antiTNF"], "range": ["transparent","transparent","#1B1BF5"]}, "legend": null}}}
       ]},
       {"data": {"values": [{"a": 1, "b": 2, "m": 1.5, "t": "***"}, {"a": 2, "b": 3, "m": 2.5, "t": "***"}]}, "layer": [
        {"mark": {"type": "rule", "strokeWidth": 1.3, "color": "#000", "yOffset": 7, "xOffset": 0.5, "x2Offset": -4.5},
         "encoding": {"x": {"field": "a", "type": "quantitative", "scale": {"domain": [0.3, 3.7], "nice": false, "zero": false}, "axis": null}, "x2": {"field": "b"}, "y": {"datum": 75}}},
        {"mark": {"type": "text", "yOffset": 5, "dx": -2, "fontSize": 12, "baseline": "alphabetic", "color": "#000"},
         "encoding": {"x": {"field": "m", "type": "quantitative"}, "y": {"datum": 75}, "text": {"field": "t"}}}
       ]}
      ], "resolve": {"scale": {"x": "independent"}}},
     {"width": 92, "height": 135, "title": {"text": "CXCL2", "frame": "group", "fontSize": 14, "offset": 8},
      "layer": [
       {"data": {"name": "eCXCL2"}, "layer": [
        {"mark": {"type": "errorbar", "extent": "stderr", "ticks": {"size": 9}, "thickness": 1.5},
         "encoding": {"x": {"field": "g", "type": "nominal", "scale": {"type": "band", "domain": ["control","ratIgG","antiTNF"], "paddingInner": 0.2, "paddingOuter": 0.3}, "axis": {"labels": false, "title": null, "tickSize": 4}},
          "y": {"field": "v", "type": "quantitative", "scale": {"domain": [0, 120], "nice": false}, "axis": {"values": [0,40,80,120], "title": ["mRNA Fold Change", "(2^(Δ ΔCt))"]}},
          "color": {"field": "g", "type": "nominal", "scale": {"domain": ["control","ratIgG","antiTNF","none"], "range": ["#000000","#E8403E","#1B1BF5","#000000"]}, "legend": null}}},
        {"mark": {"type": "tick", "size": 18, "thickness": 1.5},
         "encoding": {"x": {"field": "g", "type": "nominal"}, "y": {"aggregate": "mean", "field": "v", "type": "quantitative"}, "color": {"field": "g", "type": "nominal", "legend": null}}},
        {"mark": {"type": "point", "size": 50, "strokeWidth": 1.5, "opacity": 1},
         "encoding": {"x": {"field": "g", "type": "nominal"}, "xOffset": {"field": "s", "type": "nominal", "scale": {"domain": [1,2,3,4,5], "paddingInner": 0, "paddingOuter": 0}}, "y": {"field": "v", "type": "quantitative"},
          "shape": {"field": "g", "type": "nominal", "scale": {"domain": ["control","ratIgG","antiTNF"], "range": ["circle","triangle-down","triangle-down"]},
           "legend": {"title": "Dnase II ⁻ᐟ⁻", "orient": "none", "legendX": 119, "legendY": 6, "symbolSize": 50, "symbolStrokeWidth": 2, "symbolOffset": 1, "labelOffset": 9, "rowPadding": 3.5, "titlePadding": 1, "labelFontSize": 10.5,
            "labelExpr": "datum.value === 'control' ? 'control ( STING ᴳᵀᐟᴳᵀ )' : datum.value === 'ratIgG' ? 'rat IgG ( STING ˢ³⁶⁵ᴬᐟˢ³⁶⁵ᴬ )' : 'anti-TNF-α ( STING ˢ³⁶⁵ᴬᐟˢ³⁶⁵ᴬ )'"}},
          "stroke": {"field": "g", "type": "nominal", "scale": {"domain": ["control","ratIgG","antiTNF"], "range": ["#000000","#E8403E","#1B1BF5"]},
           "legend": {"title": "Dnase II ⁻ᐟ⁻", "orient": "none", "legendX": 119, "legendY": 6, "symbolSize": 50, "symbolStrokeWidth": 2, "symbolOffset": 1, "labelOffset": 9, "rowPadding": 3.5, "titlePadding": 1, "labelFontSize": 10.5,
            "labelExpr": "datum.value === 'control' ? 'control ( STING ᴳᵀᐟᴳᵀ )' : datum.value === 'ratIgG' ? 'rat IgG ( STING ˢ³⁶⁵ᴬᐟˢ³⁶⁵ᴬ )' : 'anti-TNF-α ( STING ˢ³⁶⁵ᴬᐟˢ³⁶⁵ᴬ )'"}},
          "fill": {"field": "g", "type": "nominal", "scale": {"domain": ["control","ratIgG","antiTNF"], "range": ["transparent","transparent","#1B1BF5"]},
           "legend": {"title": "Dnase II ⁻ᐟ⁻", "orient": "none", "legendX": 119, "legendY": 6, "symbolSize": 50, "symbolStrokeWidth": 2, "symbolOffset": 1, "labelOffset": 9, "rowPadding": 3.5, "titlePadding": 1, "labelFontSize": 10.5,
            "labelExpr": "datum.value === 'control' ? 'control ( STING ᴳᵀᐟᴳᵀ )' : datum.value === 'ratIgG' ? 'rat IgG ( STING ˢ³⁶⁵ᴬᐟˢ³⁶⁵ᴬ )' : 'anti-TNF-α ( STING ˢ³⁶⁵ᴬᐟˢ³⁶⁵ᴬ )'"}}}}
       ]},
       {"data": {"values": [{"a": 1, "b": 2, "m": 1.5, "t": "**"}, {"a": 2, "b": 3, "m": 2.5, "t": "**"}]}, "layer": [
        {"mark": {"type": "rule", "strokeWidth": 1.3, "color": "#000", "yOffset": 7, "xOffset": 0.5, "x2Offset": -4.5},
         "encoding": {"x": {"field": "a", "type": "quantitative", "scale": {"domain": [0.3, 3.7], "nice": false, "zero": false}, "axis": null}, "x2": {"field": "b"}, "y": {"datum": 120}}},
        {"mark": {"type": "text", "yOffset": 5, "dx": -2, "fontSize": 12, "baseline": "alphabetic", "color": "#000"},
         "encoding": {"x": {"field": "m", "type": "quantitative"}, "y": {"datum": 120}, "text": {"field": "t"}}}
       ]}
      ], "resolve": {"scale": {"x": "independent"}}}
    ], "spacing": 64, "bounds": "flush",
    "resolve": {"scale": {"color": "independent", "shape": "independent", "stroke": "independent", "fill": "independent", "xOffset": "independent"}}}
   ], "spacing": 199, "bounds": "flush",
   "resolve": {"scale": {"color": "independent", "shape": "independent", "stroke": "independent", "fill": "independent", "xOffset": "independent"}}}
  ], "spacing": 438, "bounds": "flush",
  "resolve": {"scale": {"color": "independent", "shape": "independent", "stroke": "independent", "fill": "independent", "xOffset": "independent"}}}
 ], "spacing": 12, "bounds": "flush",
 "resolve": {"scale": {"color": "independent", "shape": "independent", "stroke": "independent", "fill": "independent", "xOffset": "independent"}}}
],
"spacing": 284, "bounds": "flush",
"resolve": {"scale": {"color": "independent", "shape": "independent", "stroke": "independent", "fill": "independent", "xOffset": "independent"}}
}
